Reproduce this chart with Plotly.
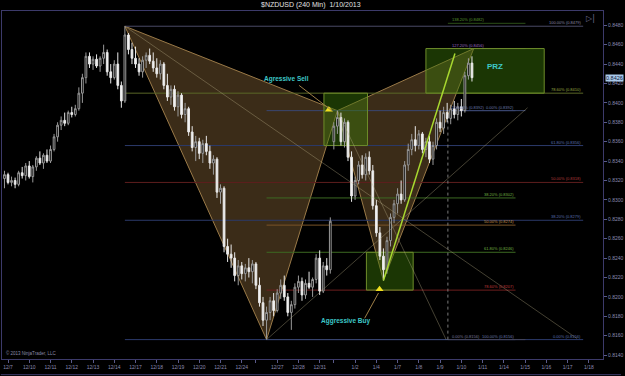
import plotly.graph_objects as go

# ---------------- data (prices in pips, /10000) ----------------
opens  = [8322,8326,8318,8320,8316,8328,8325,8335,8324,8334,8343,8338,8346,8340,8352,8365,8377,8382,8379,8390,
          8388,8394,8410,8426,8448,8440,8445,8438,8446,8452,8432,8426,8440,8418,8402,8470,8455,8446,8440,8432,
          8444,8449,8443,8436,8430,8440,8418,8406,8414,8396,8408,8388,8394,8370,8354,8360,8348,8358,8350,8338,
          8342,8308,8312,8252,8244,8240,8222,8232,8224,8230,8226,8234,8212,8194,8176,8184,8196,8186,8204,8212,
          8200,8184,8192,8210,8216,8202,8214,8210,8218,8240,8206,8232,8228,8360,8376,8385,8360,8380,8344,8304,
          8320,8336,8326,8344,8330,8294,8266,8242,8228,8258,8282,8296,8306,8300,8336,8352,8362,8356,8368,8352,
          8360,8342,8356,8380,8374,8390,8384,8394,8388,8396,8392,8428,8441]
highs  = [8330,8328,8324,8323,8330,8334,8338,8340,8336,8345,8350,8348,8352,8356,8368,8380,8386,8390,8392,8396,
          8398,8416,8430,8452,8452,8448,8450,8448,8460,8455,8440,8444,8452,8422,8479,8472,8462,8458,8446,8448,
          8452,8456,8452,8446,8444,8442,8430,8418,8418,8412,8410,8400,8396,8376,8366,8364,8362,8366,8356,8346,
          8344,8316,8314,8260,8254,8246,8238,8236,8234,8240,8238,8236,8220,8200,8190,8200,8204,8208,8218,8222,
          8204,8196,8214,8222,8220,8218,8226,8220,8244,8248,8236,8240,8282,8380,8392,8390,8384,8382,8350,8324,
          8340,8346,8348,8350,8336,8300,8272,8250,8262,8286,8300,8312,8320,8340,8358,8368,8376,8372,8370,8364,
          8366,8360,8384,8392,8396,8400,8398,8402,8400,8404,8432,8446,8448]
lows   = [8312,8316,8314,8312,8314,8322,8320,8322,8318,8330,8336,8332,8338,8338,8350,8360,8372,8376,8377,8385,
          8386,8392,8400,8420,8436,8434,8436,8432,8440,8428,8420,8424,8414,8395,8400,8450,8440,8436,8428,8426,
          8436,8440,8432,8426,8424,8414,8402,8398,8392,8386,8384,8380,8366,8350,8340,8342,8338,8346,8332,8326,
          8302,8296,8246,8236,8230,8216,8212,8218,8216,8220,8214,8208,8190,8170,8156,8176,8180,8184,8198,8196,
          8180,8166,8188,8204,8196,8198,8208,8200,8214,8202,8204,8222,8224,8352,8368,8356,8354,8340,8298,8300,
          8316,8322,8320,8326,8290,8262,8238,8217,8224,8252,8276,8286,8296,8298,8330,8346,8350,8352,8348,8344,
          8338,8336,8352,8370,8368,8380,8378,8384,8382,8386,8390,8424,8422]
closes = [8326,8318,8320,8316,8328,8325,8335,8324,8334,8343,8338,8346,8340,8352,8365,8377,8382,8379,8390,8388,
          8394,8410,8426,8448,8440,8445,8438,8446,8452,8432,8426,8440,8418,8402,8470,8455,8446,8440,8432,8444,
          8449,8443,8436,8430,8440,8418,8406,8414,8396,8408,8388,8394,8370,8354,8360,8348,8358,8350,8338,8342,
          8308,8312,8252,8244,8240,8222,8232,8224,8230,8226,8234,8212,8194,8176,8184,8196,8186,8204,8212,8200,
          8184,8192,8210,8216,8202,8214,8210,8218,8240,8206,8232,8228,8278,8376,8385,8360,8380,8344,8304,8320,
          8336,8326,8344,8330,8294,8266,8242,8228,8258,8282,8296,8306,8300,8336,8352,8362,8356,8368,8352,8360,
          8342,8356,8380,8374,8390,8384,8394,8388,8396,8392,8428,8441,8426]
bar_idx = list(range(1, len(closes) + 1))

tick_idx = [2, 8, 14, 20, 26, 32, 38, 44, 50, 56, 62, 68, 72, 78, 84, 90, 94, 100, 106,
            112, 118, 124, 130, 136, 142, 148, 154, 160, 166]
tick_txt = ["12/7", "12/10", "12/11", "12/12", "12/13", "12/14", "12/17", "12/18", "12/19",
            "12/20", "12/21", "12/24", "", "12/27", "12/28", "12/31", "", "1/2", "1/4",
            "1/7", "1/8", "1/9", "1/10", "1/11", "1/14", "1/15", "1/16", "1/17", "1/18"]

price_ticks = [0.8140, 0.8160, 0.8180, 0.8200, 0.8220, 0.8240, 0.8260, 0.8280, 0.8300,
               0.8320, 0.8340, 0.8360, 0.8380, 0.8400, 0.8420, 0.8440, 0.8460, 0.8480]
last_price = 0.8426

# harmonic pattern points X, A, B, C, D
pat_names = ["X", "A", "B", "C", "D"]
pat_idx = [35, 75, 95, 108, 133.5]
pat_price = [0.8479, 0.8156, 0.8392, 0.8217, 0.8456]

# fib sets
fib_xa_levels = ["100.00%", "78.60%", "61.80%", "50.00%", "38.20%", "0.00%"]
fib_xa_prices = [0.8479, 0.8410, 0.8356, 0.8318, 0.8279, 0.8156]
fib_xa_line = ["#4a4a66", "#5a6626", "#2c3a6a", "#5e1e1e", "#2c3a6a", "#2c3a6a"]
fib_xa_text = ["#8a8aa8", "#9aaa40", "#5a70b0", "#b03a3a", "#5a70b0", "#5a70b0"]
fib_xa_span = [35, 164.4]

fib_ab_levels = ["0.00%", "38.20%", "50.00%", "61.80%", "78.60%", "100.00%"]
fib_ab_prices = [0.8392, 0.8302, 0.8274, 0.8246, 0.8207, 0.8156]
fib_ab_line = ["#3a4670", "#3c6a22", "#7a5428", "#3c6a22", "#6e1e1e", "#3a4670"]
fib_ab_text = ["#6a7aaa", "#70b040", "#c89048", "#70b040", "#c03a3a", "#6a7aaa"]
fib_ab_span = [75, 145.3]

fib_ext_levels = ["0.00%", "100.00%", "127.20%", "138.20%"]
fib_ext_prices = [0.8156, 0.8392, 0.8456, 0.8482]
fib_ext_line = ["#44445a", "#3a4670", "#5a3a7a", "#2c4e18"]
fib_ext_text = ["#7a7a9a", "#6a7aaa", "#9a6ac0", "#5a9a30"]
fib_ext_span = [126.2, 148.1]

# zones: (x0, x1, y0, y1)
zone_sell = [91.2, 103.5, 0.8356, 0.8410]
zone_buy = [103.2, 116.4, 0.8207, 0.8246]
zone_prz = [120.0, 153.4, 0.8410, 0.8456]

# helper lines: (x0, y0, x1, y1)
aux_lines = [
    [35, 0.8479, 162.7, 0.8157],
    [75, 0.8156, 148.7, 0.8395],
    [95, 0.8392, 125.7, 0.8156],
]
proj_line = [108, 0.8217, 128.2, 0.8451]

# ---------------- figure ----------------
fig = go.Figure()
fig.add_trace(go.Candlestick(
    x=bar_idx,
    open=[v / 10000 for v in opens], high=[v / 10000 for v in highs],
    low=[v / 10000 for v in lows], close=[v / 10000 for v in closes],
    increasing=dict(line=dict(color="#9a9a9a", width=1), fillcolor="#000000"),
    decreasing=dict(line=dict(color="#e8e8e8", width=1), fillcolor="#f4f4f4"),
    whiskerwidth=0, showlegend=False, hoverinfo="skip"))

shapes = []
ann = []


def tri(a, b, c):
    return ("M {} {} L {} {} L {} {} Z".format(pat_idx[a], pat_price[a], pat_idx[b], pat_price[b],
                                               pat_idx[c], pat_price[c]))


for (a, b, c) in [(0, 1, 2), (2, 3, 4)]:
    shapes.append(dict(type="path", path=tri(a, b, c), xref="x", yref="y",
                       fillcolor="rgba(140,104,58,0.42)", line=dict(color="#9a7a48", width=1),
                       layer="below"))


def fib(levels, prices, lcols, tcols, span, anchor):
    for lab, p, lc, tc in zip(levels, prices, lcols, tcols):
        shapes.append(dict(type="line", xref="x", yref="y", x0=span[0], x1=span[1], y0=p, y1=p,
                           line=dict(color=lc, width=1), layer="below"))
        txt = "{} ({:.4f})".format(lab, p)
        if anchor == "right":
            ann.append(dict(x=span[1], y=p, xref="x", yref="y", text=txt, showarrow=False,
                            xanchor="right", yanchor="bottom",
                            font=dict(family="Arial", size=4, color=tc), yshift=-1))
        else:
            ann.append(dict(x=span[0] + 0.6, y=p, xref="x", yref="y", text=txt, showarrow=False,
                            xanchor="left", yanchor="bottom",
                            font=dict(family="Arial", size=4, color=tc), yshift=-1))


fib(fib_xa_levels, fib_xa_prices, fib_xa_line, fib_xa_text, fib_xa_span, "right")
fib(fib_ab_levels, fib_ab_prices, fib_ab_line, fib_ab_text, fib_ab_span, "right")
fib(fib_ext_levels, fib_ext_prices, fib_ext_line, fib_ext_text, fib_ext_span, "left")

# extension anchor (dotted vertical)
shapes.append(dict(type="line", xref="x", yref="y", x0=fib_ext_span[0], x1=fib_ext_span[0],
                   y0=fib_ext_prices[0], y1=fib_ext_prices[1],
                   line=dict(color="#7a7a7a", width=1, dash="dot"), layer="below"))

# zones
for z in [zone_sell, zone_buy, zone_prz]:
    shapes.append(dict(type="rect", xref="x", yref="y", x0=z[0], x1=z[1], y0=z[2], y1=z[3],
                       fillcolor="rgba(60,120,8,0.45)", line=dict(color="#6e8c2a", width=1),
                       layer="below"))

# helper lines
for l in aux_lines:
    shapes.append(dict(type="line", xref="x", yref="y", x0=l[0], y0=l[1], x1=l[2], y1=l[3],
                       line=dict(color="rgba(190,180,140,0.45)", width=0.8)))
shapes.append(dict(type="line", xref="x", yref="y", x0=proj_line[0], y0=proj_line[1],
                   x1=proj_line[2], y1=proj_line[3], line=dict(color="#a8d830", width=1.5)))

# leader lines for labels
shapes.append(dict(type="line", xref="x", yref="y", x0=84.2, y0=0.8418, x1=93.4, y1=0.8392,
                   line=dict(color="#a08048", width=1)))
shapes.append(dict(type="line", xref="x", yref="y", x0=102.7, y0=0.8178, x1=106.6, y1=0.8204,
                   line=dict(color="#a08048", width=1)))

# triangle markers
fig.add_trace(go.Scatter(x=[92.6, 106.9], y=[0.8393, 0.8208], mode="markers",
                         marker=dict(symbol="triangle-up", size=7, color="#f0e020"),
                         showlegend=False, hoverinfo="skip"))

ann.append(dict(x=80.7, y=0.8425, xref="x", yref="y", text="<b>Agressive Sell</b>", showarrow=False,
                font=dict(family="Arial", size=6.5, color="#3ec8c8")))
ann.append(dict(x=97.3, y=0.8175, xref="x", yref="y", text="<b>Aggressive Buy</b>", showarrow=False,
                font=dict(family="Arial", size=6.5, color="#3ec8c8")))
ann.append(dict(x=139.4, y=0.8437, xref="x", yref="y", text="<b>PRZ</b>", showarrow=False,
                font=dict(family="Arial", size=8, color="#3ec8c8")))

# title
ann.append(dict(x=0.514, y=1, xref="paper", yref="paper", text="$NZDUSD (240 Min)  1/10/2013",
                showarrow=False, yanchor="bottom", font=dict(family="Arial", size=7, color="#e0e0e0")))
# nav icon
ann.append(dict(x=0.99, y=0.8487, xref="paper", yref="y", text="▷|", showarrow=False,
                font=dict(family="DejaVu Sans", size=8, color="#6a6a8a")))
# copyright
ann.append(dict(x=0.003, y=0.8142, xref="paper", yref="y", text="© 2013 NinjaTrader, LLC", showarrow=False,
                xanchor="left", font=dict(family="Arial", size=4.5, color="#8a8aa8")))
# current price tag
ann.append(dict(x=1.0, y=last_price, xref="paper", yref="y", text="0.8426", showarrow=False,
                xanchor="left", xshift=2, font=dict(family="Arial", size=5.5, color="#10203a"),
                bgcolor="#a9c9ea", borderpad=0))

fig.update_layout(
    width=625, height=376,
    margin=dict(l=1, r=19, t=11, b=17),
    paper_bgcolor="#000000", plot_bgcolor="#000000",
    shapes=shapes, annotations=ann,
    xaxis=dict(range=[0.3, 170], tickmode="array", tickvals=tick_idx, ticktext=tick_txt,
               showgrid=False, zeroline=False, rangeslider=dict(visible=False),
               showline=True, mirror=True, linecolor="#3c3a6a", linewidth=1,
               ticks="outside", ticklen=3, tickcolor="#5a5a8a",
               tickfont=dict(family="Arial", size=5, color="#8a8ab0")),
    yaxis=dict(range=[0.81360, 0.84947], side="right", tickmode="array", tickvals=price_ticks,
               tickformat=".4f", showgrid=False, zeroline=False,
               showline=True, mirror=True, linecolor="#3c3a6a", linewidth=1,
               ticks="outside", ticklen=3, tickcolor="#5a5a8a",
               tickfont=dict(family="Arial", size=5, color="#8a8ab0")),
)
fig.add_shape(type="line", xref="paper", yref="paper", x0=-0.002, x1=1.03, y0=-0.045, y1=-0.045,
              line=dict(color="#3c3a6a", width=1))

fig.write_html("out.html")
